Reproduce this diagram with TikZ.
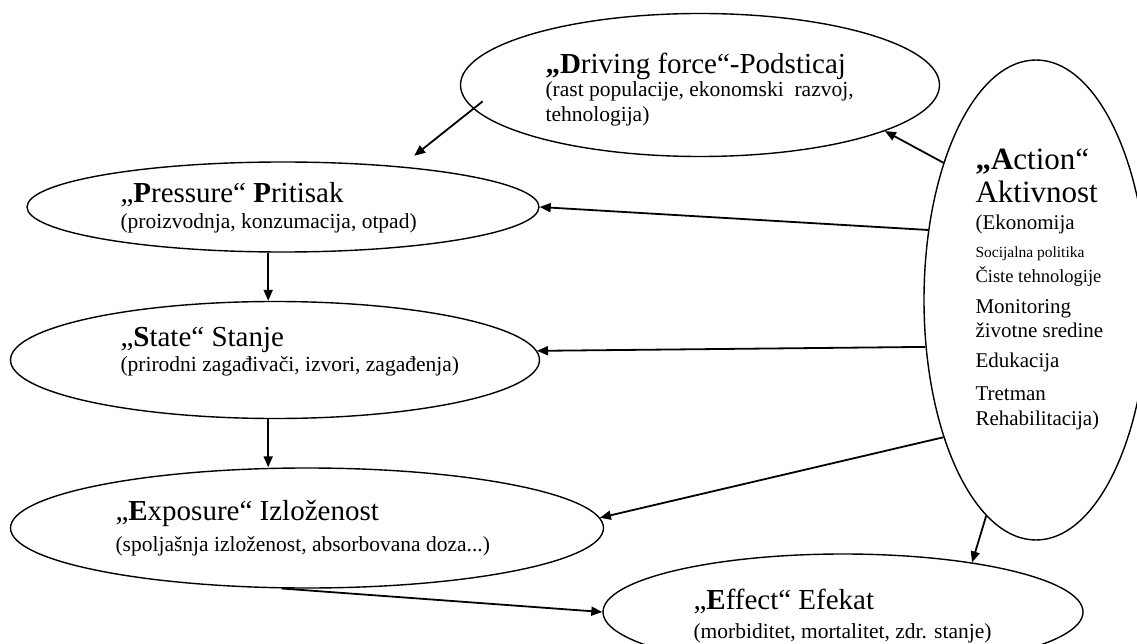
\documentclass[tikz,border=0pt]{standalone}
\usepackage{fontspec}
\setmainfont{Liberation Serif}
\usetikzlibrary{shapes.geometric,arrows.meta}

\begin{document}
\begin{tikzpicture}[x=1pt, y=-1pt,
    blob/.style={draw, ellipse, line width=1.4pt, inner sep=0pt},
    arr/.style={-{Triangle[length=11pt,width=9pt]}, line width=1.8pt},
    head/.style={anchor=base west, font=\fontsize{29}{29}\selectfont},
    sub/.style={anchor=base west, font=\fontsize{21.5}{22}\selectfont}]
  \useasboundingbox (0,0) rectangle (1137,644);
  \clip (0,0) rectangle (1137,644);

  % The ellipses
  \node[blob, minimum width=479pt, minimum height=143pt] (drive) at (700,85) {};
  \node[blob, minimum width=512pt, minimum height=90pt] (pres) at (283,207) {};
  \node[blob, minimum width=529pt, minimum height=117pt] (state) at (275,360) {};
  \node[blob, minimum width=593pt, minimum height=120pt] (expo) at (307,528) {};
  \node[blob, minimum width=480pt, minimum height=116pt] (eff) at (843,612) {};
  \node[blob, minimum width=224pt, minimum height=480pt] (act) at (1036,300) {};

  % Driving force
  \node[head] (driveH) at (542,74) {\textbf{„D}riving force“-Podsticaj};
  \node[sub] (driveS1) at (542,97) {(rast populacije, ekonomski~ razvoj,};
  \node[sub] (driveS2) at (542,122) {tehnologija)};

  % Pressure
  \node[head] (presH) at (117,203) {„\textbf{P}ressure“ \textbf{P}ritisak};
  \node[sub] (presS) at (117,229) {(proizvodnja, konzumacija, otpad)};

  % State
  \node[head] (stateH) at (117,346) {„\textbf{S}tate“ Stanje};
  \node[sub] (stateS) at (117,371) {(prirodni zagađivači, izvori, zagađenja)};

  % Exposure
  \node[head] (expoH) at (112,520) {„\textbf{E}xposure“ Izloženost};
  \node[sub] (expoS) at (112,551) {(spoljašnja izloženost, absorbovana doza...)};

  % Effect
  \node[head] (effH) at (690,609) {„\textbf{E}ffect“ Efekat};
  \node[sub] (effS) at (690,638) {(morbiditet, mortalitet, zdr. stanje)};

  % Action, one line at a time
  \foreach \yb/\fs/\txt [count=\i] in {170/31/{\textbf{„A}ction“}, 203/31/{Aktivnost},
      230/21/{(Ekonomija}, 258/15.5/{Socijalna politika}, 283/18.5/{Čiste tehnologije},
      313/21/{Monitoring}, 337/21/{životne sredine}, 367/21/{Edukacija},
      400/21/{Tretman}, 425/21/{Rehabilitacija)}}
    \node[anchor=base west, font=\fontsize{\fs}{\fs}\selectfont] (act\i) at (972,\yb) {\txt};

  % Chain down the left side
  \draw[arr, shorten <=-12pt, shorten >=17pt] (drive.186) -- (pres.19);
  \draw[arr] (pres.252) -- (pres.252 |- state.north);
  \draw[arr] (pres.252 |- state.south) -- (pres.252 |- expo.north);
  \draw[arr] (expo.247) -- (eff.west);

  % Arrows out of Action
  \draw[arr] (act.124) -- (drive.-14);
  \draw[arr] (act.147) -- (pres.east);
  \draw[arr] (act.203) -- (state.2);
  \draw[arr] (act.236) -- (expo.2);
  \draw[arr] (act.257) -- (eff.21);
\end{tikzpicture}
\end{document}
